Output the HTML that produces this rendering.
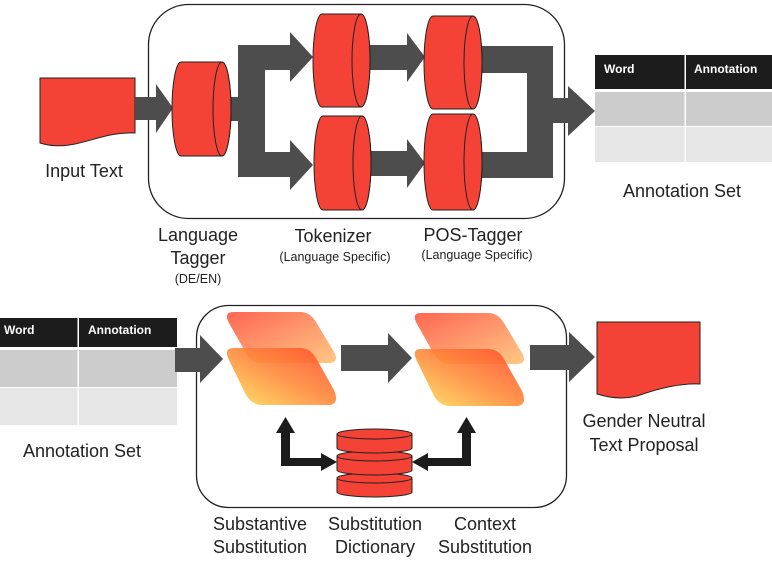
<!DOCTYPE html>
<html><head><meta charset="utf-8"><style>
html,body{margin:0;padding:0;background:#fff;}
svg{display:block;font-family:"Liberation Sans",Arial,sans-serif;}
</style></head><body>
<svg width="772" height="563" viewBox="0 0 772 563" xmlns="http://www.w3.org/2000/svg">
<defs>
<linearGradient id="gt" x1="0" y1="0" x2="1" y2="1">
<stop offset="0" stop-color="#ff5540"/><stop offset="1" stop-color="#ffc277"/></linearGradient>
<linearGradient id="gb" x1="0" y1="1" x2="1" y2="0">
<stop offset="0" stop-color="#ffe05a"/><stop offset="0.5" stop-color="#ff8a3a"/><stop offset="1" stop-color="#ff4a2a"/></linearGradient>
</defs>
<!-- boxes -->
<rect x="148.5" y="4.5" width="416" height="214" rx="40" fill="none" stroke="#222" stroke-width="1.3"/>
<rect x="196.5" y="305.5" width="370" height="202" rx="32" fill="none" stroke="#222" stroke-width="1.3"/>

<!-- input doc -->
<path d="M40,78 H135 V133 C110,132 95,140 75,144 C60,147 50,146 40,143 Z" fill="#f44336" stroke="#222" stroke-width="1"/>
<!-- input arrow -->
<path d="M135,97 H156 V84 L173,108 L156,133 V120 H135 Z" fill="#4d4d4d"/>

<!-- split connector -->
<path d="M220,97 H238 V45 H290 V32 L313,57 L290,82 V70 H265 V152 H290 V140 L313,165 L290,190 V177 H238 V121 H220 Z" fill="#4d4d4d"/>
<!-- middle arrows -->
<path d="M362,45 H407 V33 L425,57 L407,82 V70 H362 Z" fill="#4d4d4d"/>
<path d="M362,151 H407 V139 L425,163 L407,188 V176 H362 Z" fill="#4d4d4d"/>
<!-- merge -->
<path d="M476,46 H553 V98 H568 V86 L595,111 L568,136 V123 H553 V178 H478 V152 H527 V73 H476 Z" fill="#4d4d4d"/>

<!-- cylinders -->
<g fill="#f44336" stroke="#222" stroke-width="1">
<path d="M181,62 H222 A9,47 0 0 1 222,156 H181 A9,47 0 0 1 181,62 Z"/>
<ellipse cx="222" cy="109" rx="9" ry="47"/>
<path d="M322,14 H361 A9,46.5 0 0 1 361,107 H322 A9,46.5 0 0 1 322,14 Z"/>
<ellipse cx="361" cy="60.5" rx="9" ry="46.5"/>
<path d="M323,116 H362 A9,47 0 0 1 362,210 H323 A9,47 0 0 1 323,116 Z"/>
<ellipse cx="362" cy="163" rx="9" ry="47"/>
<path d="M433,16 H473 A9,46.5 0 0 1 473,109 H433 A9,46.5 0 0 1 433,16 Z"/>
<ellipse cx="473" cy="62.5" rx="9" ry="46.5"/>
<path d="M433,114 H473 A9,48 0 0 1 473,210 H433 A9,48 0 0 1 433,114 Z"/>
<ellipse cx="473" cy="162" rx="9" ry="48"/>
</g>
<!-- cover of box line under bottom cylinders is fine -->

<!-- top table -->
<rect x="595" y="55" width="177" height="34" fill="#1c1c1c"/>
<rect x="595" y="92" width="177" height="34" fill="#cccccc"/>
<rect x="595" y="127" width="177" height="35" fill="#e6e6e6"/>
<rect x="684.5" y="55" width="1.5" height="107" fill="#fff"/>
<text x="604" y="73" font-size="12" font-weight="bold" fill="#fff">Word</text>
<text x="694" y="73" font-size="12" font-weight="bold" fill="#fff">Annotation</text>

<!-- top labels -->
<g font-size="18" fill="#222" text-anchor="middle">
<text x="84" y="177">Input Text</text>
<text x="682" y="197">Annotation Set</text>
<text x="198" y="241">Language</text>
<text x="198" y="264">Tagger</text>
<text x="333" y="242">Tokenizer</text>
<text x="473" y="241">POS-Tagger</text>
</g>
<g font-size="12.5" fill="#222" text-anchor="middle">
<text x="198" y="283">(DE/EN)</text>
<text x="335" y="261">(Language Specific)</text>
<text x="477" y="259">(Language Specific)</text>
</g>

<!-- bottom table -->
<rect x="0" y="318" width="177" height="29" fill="#1c1c1c"/>
<rect x="0" y="350" width="177" height="37" fill="#cccccc"/>
<rect x="0" y="388" width="177" height="37" fill="#e6e6e6"/>
<rect x="77.5" y="318" width="1.5" height="107" fill="#fff"/>
<text x="4" y="334" font-size="12" font-weight="bold" fill="#fff">Word</text>
<text x="88" y="334" font-size="12" font-weight="bold" fill="#fff">Annotation</text>

<!-- bottom arrows -->
<path d="M175,348 H200 V335 L223,359 L200,383 V372 H175 Z" fill="#4d4d4d"/>
<path d="M341,345 H388 V333 L412,358 L388,383 V371 H341 Z" fill="#4d4d4d"/>
<path d="M530,345 H569 V332 L595,357 L569,382 V370 H530 Z" fill="#4d4d4d"/>

<!-- parallelograms -->
<g>
<path d="M234,312 H300 Q310,312 316,322 L334,352 Q340,363 328,363 H262 Q252,363 246,353 L229,323 Q223,312 234,312 Z" fill="url(#gt)" opacity="0.9"/>
<path d="M234,348 H300 Q310,348 316,358 L334,390 Q340,405 328,405 H262 Q252,405 246,395 L229,360 Q223,348 234,348 Z" fill="url(#gb)" opacity="0.9"/>
<path d="M421,313 H488 Q498,313 504,323 L522,353 Q528,364 516,364 H450 Q440,364 434,354 L417,324 Q411,313 421,313 Z" fill="url(#gt)" opacity="0.9"/>
<path d="M421,349 H488 Q498,349 504,359 L522,391 Q528,406 516,406 H450 Q440,406 434,396 L417,361 Q411,349 421,349 Z" fill="url(#gb)" opacity="0.9"/>
</g>

<!-- database -->
<g fill="#f44336" stroke="#222" stroke-width="1">
<path d="M337,478 V492 A37.5,5 0 0 0 412,492 V478 Z"/>
<ellipse cx="374.5" cy="478" rx="37.5" ry="5"/>
<path d="M337,456 V470 A37.5,5 0 0 0 412,470 V456 Z"/>
<ellipse cx="374.5" cy="456" rx="37.5" ry="5"/>
<path d="M337,434 V448 A37.5,5 0 0 0 412,448 V434 Z"/>
<ellipse cx="374.5" cy="434" rx="37.5" ry="5"/>
</g>
<!-- black arrows -->
<path d="M281,433 H276 L285.5,417 L295,433 H290 V458 H321 V453 L337,462 L321,471 V466 H281 Z" fill="#1c1c1c"/>
<path d="M412,462 L428,453 V458 H462 V433 H457 L466.5,417 L476,433 H471 V466 H428 V471 Z" fill="#1c1c1c"/>

<!-- output doc -->
<path d="M597,322 H700 V384 C680,383 660,388 640,395 C625,400 610,398 597,394 Z" fill="#f44336" stroke="#222" stroke-width="1"/>

<!-- bottom labels -->
<g font-size="18" fill="#222" text-anchor="middle">
<text x="82" y="457">Annotation Set</text>
<text x="644" y="427">Gender Neutral</text>
<text x="644" y="451">Text Proposal</text>
<text x="260" y="530">Substantive</text>
<text x="260" y="553">Substitution</text>
<text x="375" y="530">Substitution</text>
<text x="375" y="553">Dictionary</text>
<text x="485" y="530">Context</text>
<text x="485" y="553">Substitution</text>
</g>
</svg>
</body></html>
